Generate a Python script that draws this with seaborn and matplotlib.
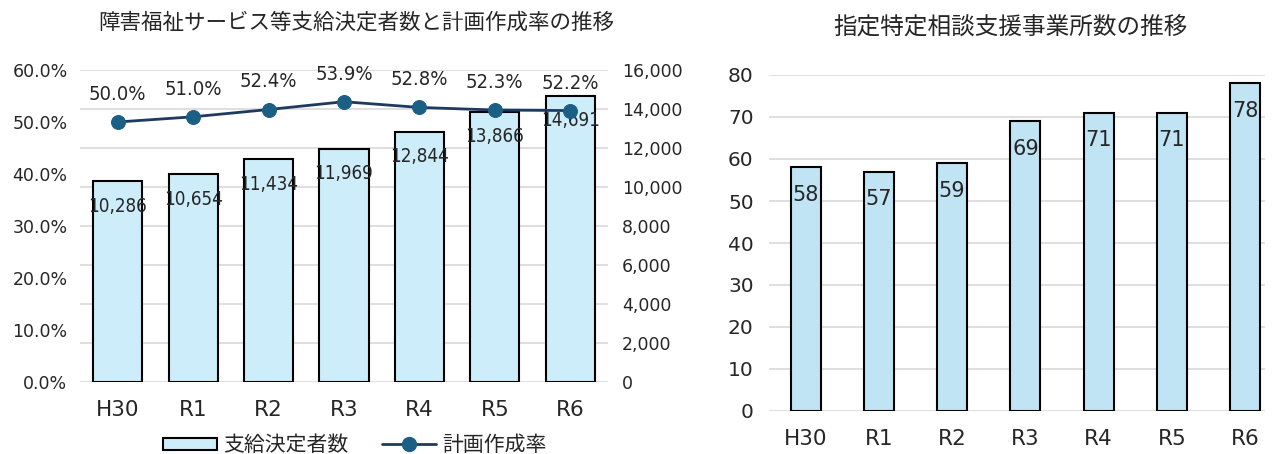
import matplotlib
matplotlib.use("Agg")
import matplotlib.pyplot as plt
import seaborn as sns
from matplotlib.ticker import FuncFormatter, MultipleLocator
from matplotlib.patches import Patch
from matplotlib.lines import Line2D

sns.set_theme(style="white")
plt.rcParams['font.family'] = ['DejaVu Sans', 'Noto Sans CJK JP']

years = ["H30", "R1", "R2", "R3", "R4", "R5", "R6"]
decided = [10286, 10654, 11434, 11969, 12844, 13866, 14691]
plan_rate = [50.0, 51.0, 52.4, 53.9, 52.8, 52.3, 52.2]
offices = [58, 57, 59, 69, 71, 71, 78]

title_left = "障害福祉サービス等支給決定者数と計画作成率の推移"
title_right = "指定特定相談支援事業所数の推移"

bar_left_color = "#CDEDFA"
bar_right_color = "#C0E4F4"
line_color = "#1F3A5F"
marker_color = "#1B5F85"
grid_color = "#D9D9D9"
text_color = "#262626"

fig = plt.figure(figsize=(12.75, 4.54), dpi=100)
W, H = 1275, 454
axL = fig.add_axes([80 / W, 1 - 382 / H, 528 / W, 312 / H])
axR = axL.twinx()
ax2 = fig.add_axes([769 / W, 1 - 411 / H, 496 / W, 336 / H])

# Left: bars on right axis
sns.barplot(x=years, y=decided, color=bar_left_color, edgecolor="black",
            linewidth=1.5, width=0.65, saturation=1, ax=axR)
axR.set_ylim(0, 16000)
axR.yaxis.set_major_locator(MultipleLocator(2000))
axR.yaxis.set_major_formatter(FuncFormatter(lambda v, p: f"{int(v):,}"))
axR.grid(axis="y", color=grid_color, linewidth=1.2)
axR.set_axisbelow(True)
for c in axR.containers:
    axR.bar_label(c, labels=[f"{v:,}" for v in decided], padding=-25,
                  fontsize=13.5, fontstretch="condensed", color=text_color)

# Left: line on left axis
axL.set_zorder(axR.get_zorder() + 1)
axL.patch.set_visible(False)
sns.lineplot(x=years, y=plan_rate, color=line_color, linewidth=2, ax=axL,
             marker="o", markersize=10, markerfacecolor=marker_color,
             markeredgecolor=marker_color, sort=False)
axL.set_ylim(0, 60)
axL.yaxis.set_major_locator(MultipleLocator(10))
axL.yaxis.set_major_formatter(FuncFormatter(lambda v, p: f"{v:.1f}%"))
axL.set_xlim(-0.5, len(years) - 0.5)
for i, v in enumerate(plan_rate):
    axL.annotate(f"{v:.1f}%", (i, v), xytext=(0, 13), textcoords="offset points",
                 ha="center", va="bottom", fontsize=14.5, fontstretch="condensed",
                 color=text_color)

for a in (axL, axR):
    for s in a.spines.values():
        s.set_visible(False)
    a.tick_params(length=0, colors=text_color)
axL.tick_params(axis="y", labelsize=12.5, pad=9)
axR.tick_params(axis="y", labelsize=12.5, pad=10)
axL.tick_params(axis="x", labelsize=15.5, pad=13)
axL.set_ylabel("")
axR.set_ylabel("")
fig.text(356 / W, 1 - 22 / H, title_left, ha="center", va="center",
         fontsize=15.5, color=text_color)

handles = [Patch(facecolor=bar_left_color, edgecolor="black", linewidth=1.5, label="支給決定者数"),
           Line2D([], [], color=line_color, linewidth=2, marker="o", markersize=10,
                  markerfacecolor=marker_color, markeredgecolor=marker_color, label="計画作成率")]
fig.legend(handles=handles, loc="center", bbox_to_anchor=(355 / W, 1 - 445 / H), ncol=2,
           frameon=False, fontsize=15, handlelength=2.6, handleheight=0.5,
           columnspacing=1.6, handletextpad=0.3, labelcolor=text_color)

# Right chart
sns.barplot(x=years, y=offices, color=bar_right_color, edgecolor="black",
            linewidth=1.5, width=0.41, saturation=1, ax=ax2)
ax2.set_ylim(0, 80)
ax2.set_xlim(-0.5, 6.27)
ax2.yaxis.set_major_locator(MultipleLocator(10))
ax2.grid(axis="y", color=grid_color, linewidth=1.2)
ax2.set_axisbelow(True)
for s in ax2.spines.values():
    s.set_visible(False)
ax2.tick_params(length=0, colors=text_color)
ax2.tick_params(axis="y", labelsize=14.5, pad=11)
ax2.tick_params(axis="x", labelsize=15.5, pad=13)
ax2.set_ylabel("")
for c in ax2.containers:
    ax2.bar_label(c, labels=[str(v) for v in offices], padding=-27,
                  fontsize=15, color=text_color)
fig.text(1010 / W, 1 - 27 / H, title_right, ha="center", va="center",
         fontsize=17, color=text_color)

fig.savefig("out.png", dpi=100)
